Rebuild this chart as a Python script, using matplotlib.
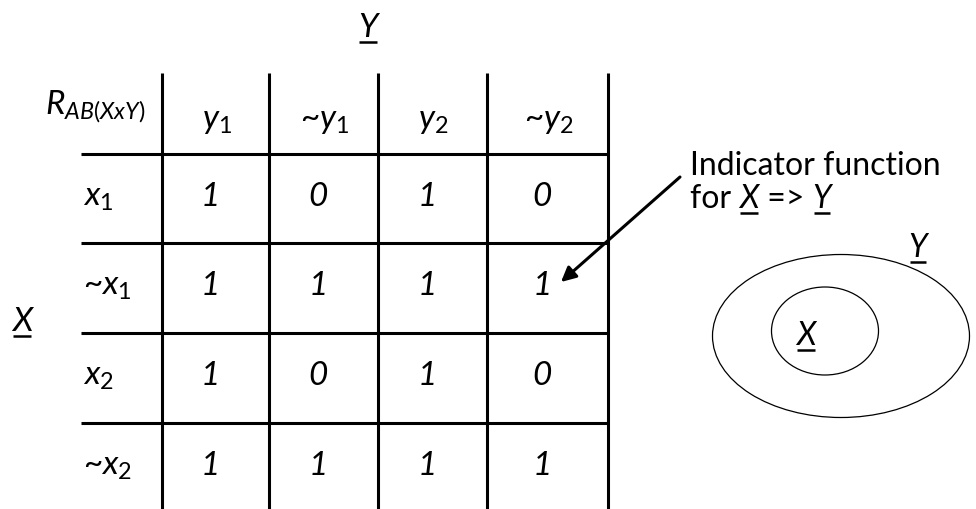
import matplotlib.pyplot as plt
from matplotlib.patches import Ellipse

plt.rcParams['font.family'] = ['Lato', 'DejaVu Sans']
plt.rcParams['mathtext.fontset'] = 'custom'
plt.rcParams['mathtext.it'] = 'Lato:italic'
plt.rcParams['mathtext.rm'] = 'Lato'

# table contents
corner_label = r'$\mathit{R_{AB(XxY)}}$'
col_labels = [r'$\mathit{y_1}$', r'~$\mathit{y_1}$', r'$\mathit{y_2}$', r'~$\mathit{y_2}$']
row_labels = [r'$\mathit{x_1}$', r'~$\mathit{x_1}$', r'$\mathit{x_2}$', r'~$\mathit{x_2}$']
values = [
    [1, 0, 1, 0],
    [1, 1, 1, 1],
    [1, 0, 1, 0],
    [1, 1, 1, 1],
]
note_line1 = 'Indicator function'
note_line2 = ['for ', 'X', ' => ', 'Y']

# layout (pixel coords)
col_edges = [162, 269, 378, 487, 608]
row_edges = [154, 243, 333, 423, 509]
table_top = 73
table_left = 81
lw = 2.2
fs = 24

fig = plt.figure(figsize=(9.76, 5.09), dpi=100)
ax = fig.add_axes([0, 0, 1, 1])
ax.set_xlim(0, 976)
ax.set_ylim(509, 0)
ax.axis('off')

ax.vlines(col_edges, table_top, 509, color='black', lw=lw)
ax.hlines(row_edges[:-1], table_left, col_edges[-1], color='black', lw=lw)


def underlined(x, y, s, size, ha='center', style='italic'):
    t = ax.text(x, y, s, fontsize=size, ha=ha, va='baseline', style=style)
    fig.canvas.draw()
    bb = t.get_window_extent().transformed(ax.transData.inverted())
    ax.plot([bb.x0 + 1, bb.x1 - 1], [y + 5, y + 5], color='black', lw=1.8,
            solid_capstyle='butt')
    return bb


# axis titles
underlined(368, 37, 'Y', 24)
underlined(22, 331, 'X', 24)

# header row
ax.text(45, 114, corner_label, fontsize=fs, ha='left', va='baseline')
for j, lab in enumerate(col_labels):
    cx = (col_edges[j] + col_edges[j + 1]) / 2
    ax.text(cx + 1, 128, lab, fontsize=fs, ha='center', va='baseline', style='italic')

# body
for i, lab in enumerate(row_labels):
    base = row_edges[i] + 52
    ax.text(83, base, lab, fontsize=fs, ha='left', va='baseline', style='italic')
    for j, v in enumerate(values[i]):
        cx = (col_edges[j] + col_edges[j + 1]) / 2
        ax.text(cx - 5, base, str(v), fontsize=fs, ha='center', va='baseline',
                style='italic')

# arrow + note
ax.annotate('', xy=(561, 282), xytext=(680, 177),
            arrowprops=dict(arrowstyle='-|>', lw=2.2, color='black',
                            mutation_scale=22, shrinkA=0, shrinkB=0))
ax.text(690, 175, note_line1, fontsize=23, ha='left', va='baseline')
x = 690
for piece in note_line2:
    if piece in ('X', 'Y'):
        bb = underlined(x, 208, piece, 23, ha='left', style='italic')
    else:
        t = ax.text(x, 208, piece, fontsize=23, ha='left', va='baseline')
        fig.canvas.draw()
        bb = t.get_window_extent().transformed(ax.transData.inverted())
    x = bb.x1

# nested sets
ax.add_patch(Ellipse((841, 336), 257, 163, fill=False, lw=0.9, color='black'))
ax.add_patch(Ellipse((825, 331), 107, 88, fill=False, lw=0.9, color='black'))
underlined(806, 345, 'X', 23)
underlined(918, 257, 'Y', 23)

plt.savefig('out.png', dpi=100)
